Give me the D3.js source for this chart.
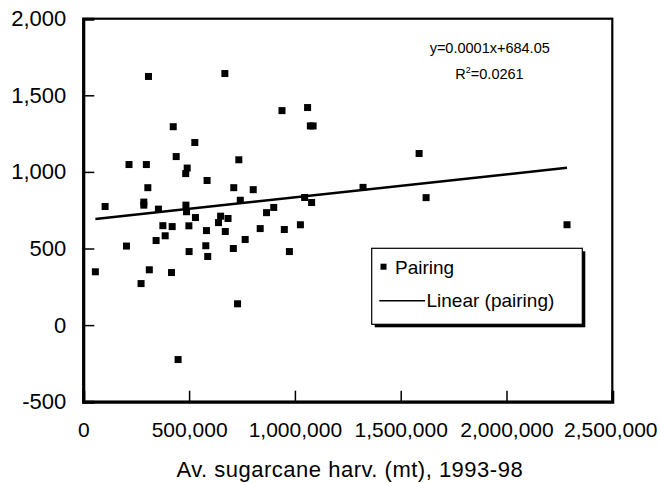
<!DOCTYPE html>
<html><head><meta charset="utf-8">
<script src="https://cdn.jsdelivr.net/npm/d3@7"></script>
<style>
html,body{margin:0;padding:0;background:#fff;}
svg{display:block;font-family:"Liberation Sans",Arial,sans-serif;}
</style></head>
<body>
<svg id="chart" width="660" height="483"></svg>
<script>
// Data: average sugarcane harvest (mt) vs pairing value
const harvest = [308000,669000,939000,1060000,1073000,1086000,425000,527000,439000,735000,
  216000,298000,491000,484000,585000,305000,711000,803000,103000,286000,
  286000,355000,485000,488000,742000,1046000,1079000,530000,649000,684000,
  639000,900000,866000,376000,420000,499000,582000,671000,836000,950000,
  1026000,387000,344000,765000,204000,579000,500000,709000,974000,588000,
  57000,312000,417000,273000,729000,448000,1322000,1587000,1620000,2286000];
const pairing = [1623,1642,1400,1420,1300,1300,1295,1192,1100,1079,
  1048,1048,1025,989,944,897,897,884,774,803,
  783,757,783,740,815,833,800,702,711,696,
  669,768,734,649,643,648,617,611,630,624,
  655,583,552,559,516,518,480,500,480,448,
  348,361,343,271,139,-225,899,1120,832,655];
const trendSlope = 0.00015;
const trendIntercept = 684.05;
const xTicks = [0,500000,1000000,1500000,2000000,2500000];
const xTickLabels = ["0","500,000","1,000,000","1,500,000","2,000,000","2,500,000"];
const yTicks = [-500,0,500,1000,1500,2000];
const yTickLabels = ["-500","0","500","1,000","1,500","2,000"];
const xTitle = "Av. sugarcane harv. (mt), 1993-98";
const eqText = "y=0.0001x+684.05";
const r2Text = "=0.0261";
const legendLabels = ["Pairing","Linear (pairing)"];

const svg = d3.select("#chart");
const L = 83.3, R = 612.3, T = 18.7, B = 401.7;
const x = d3.scaleLinear().domain([0,2500000]).range([L, R]);
const y = d3.scaleLinear().domain([-500,2000]).range([B, T]);

// frame
svg.append("rect").attr("x",L).attr("y",T).attr("width",R-L).attr("height",B-T)
  .attr("fill","none").attr("stroke","#000").attr("stroke-width",2.2);

// axes with inward ticks
const yAxis = d3.axisLeft(y).tickValues(yTicks).tickSize(-11).tickPadding(17)
  .tickFormat(d=>yTickLabels[yTicks.indexOf(d)]);
const gy = svg.append("g").attr("transform",`translate(${L},0)`).call(yAxis);
gy.select(".domain").attr("stroke","#000").attr("stroke-width",3);
gy.selectAll(".tick line").attr("stroke","#000").attr("stroke-width",1.5);
gy.selectAll(".tick text").attr("font-size",22).attr("fill","#000")
  .attr("font-family","'Liberation Sans',Arial,sans-serif");

const xAxis = d3.axisBottom(x).tickValues(xTicks).tickSize(-11).tickPadding(20)
  .tickFormat(d=>xTickLabels[xTicks.indexOf(d)]);
const gx = svg.append("g").attr("transform",`translate(0,${B})`).call(xAxis);
gx.select(".domain").attr("stroke","#000").attr("stroke-width",3);
gx.selectAll(".tick line").attr("stroke","#000").attr("stroke-width",1.5);
gx.selectAll(".tick text").attr("font-size",21).attr("fill","#000")
  .attr("font-family","'Liberation Sans',Arial,sans-serif");
gx.selectAll(".tick").filter(d=>d===0||d===2500000).select("line").remove();
gx.selectAll(".tick").filter(d=>d===2500000).select("text").attr("dx",-2);

// x title
svg.append("text").attr("x",(L+R)/2+2).attr("y",477).attr("text-anchor","middle")
  .attr("font-size",22).attr("letter-spacing",0.5).text(xTitle);

// points
const pts = harvest.map((h,i)=>({h, p: pairing[i]}));
const sz = 7;
svg.append("g").selectAll("rect").data(pts).join("rect")
  .attr("x",d=>x(d.h)-sz/2).attr("y",d=>y(d.p)-sz/2)
  .attr("width",sz).attr("height",sz).attr("fill","#000");

// trend line
const xMin = d3.min(harvest), xMax = d3.max(harvest);
svg.append("line")
  .attr("x1",x(xMin)).attr("y1",y(trendIntercept+trendSlope*xMin))
  .attr("x2",x(xMax)).attr("y2",y(trendIntercept+trendSlope*xMax))
  .attr("stroke","#000").attr("stroke-width",2.5);

// equation
svg.append("text").attr("x",489.7).attr("y",52.5).attr("text-anchor","middle")
  .attr("font-size",14.5).text(eqText);
const r2 = svg.append("text").attr("x",489.5).attr("y",79).attr("text-anchor","middle")
  .attr("font-size",14.5);
r2.append("tspan").text("R");
r2.append("tspan").attr("font-size",9).attr("dy",-6).text("2");
r2.append("tspan").attr("dy",6).text(r2Text);

// legend
const lg = svg.append("g");
const lx = 371.7, ly = 248.3, lw = 210.6, lh = 76;
lg.append("rect").attr("x",lx+3).attr("y",ly+3).attr("width",lw).attr("height",lh).attr("fill","#000");
lg.append("rect").attr("x",lx).attr("y",ly).attr("width",lw).attr("height",lh)
  .attr("fill","#fff").attr("stroke","#000").attr("stroke-width",1.2);
lg.append("rect").attr("x",383.5-3).attr("y",266.7-3).attr("width",6).attr("height",6).attr("fill","#000");
lg.append("text").attr("x",395).attr("y",273.5).attr("font-size",19).text(legendLabels[0]);
lg.append("line").attr("x1",379.3).attr("x2",425).attr("y1",300.7).attr("y2",300.7)
  .attr("stroke","#000").attr("stroke-width",1.5);
lg.append("text").attr("x",426.5).attr("y",307).attr("font-size",19).text(legendLabels[1]);
</script>
</body></html>
